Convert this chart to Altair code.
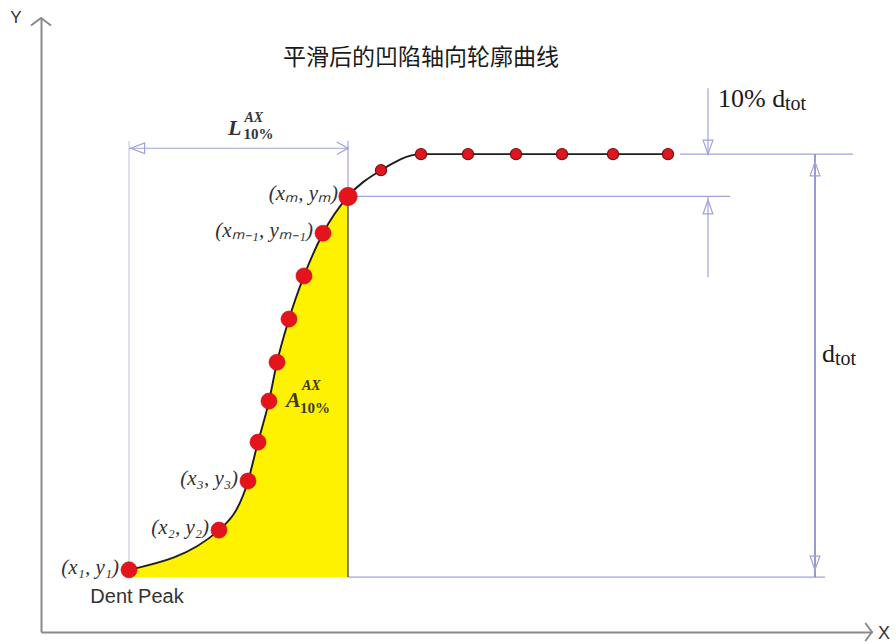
import altair as alt
import pandas as pd

# Smoothed axial dent profile.
# pos: position along the dent axis; depth: depth as % of the total dent depth d_tot
pos = [8.8, 17.8, 20.7, 21.7, 22.8, 23.6, 24.8, 26.3, 28.2, 30.7,
       34.0, 38.0, 42.7, 47.5, 52.1, 57.2, 62.7]
depth = [1.7, 11.1, 22.7, 31.9, 41.6, 50.8, 61.0, 71.2, 81.3, 90.0,
         96.2, 100.0, 100.0, 100.0, 100.0, 100.0, 100.0]
D_TOT = 100.0
M = 9  # index of (x_m, y_m), the point at 90 % of d_tot

label_index = [0, 1, 2, 8, 9]
label_text = ["(x₁, y₁)", "(x₂, y₂)", "(x₃, y₃)", "(xₘ₋₁, yₘ₋₁)", "(xₘ, yₘ)"]

TITLE = "平滑后的凹陷轴向轮廓曲线"

# ---- frame and annotation layout (data units) ---------------------------
X_MAX, Y_MIN, Y_MAX = 83.1, -13.0, 132.2
L_LEVEL, EXT_TOP = 101.4, 103.1          # L dimension line
TEN_X, TEN_TOP, TEN_LOW = 66.7, 115.6, 70.9  # 10 % d_tot arrows
DTOT_X = 77.4                            # d_tot arrow
TOP_LINE = (63.9, 81.2)
MID_END, BASE_END = 68.9, 78.4

LINE_C = "#9ea3da"
DARK_LINE_C = "#7a80cf"
TEXT_C = "#333333"

profile = pd.DataFrame({"i": list(range(len(pos))), "x": pos, "y": depth})
x1, y1 = pos[0], depth[0]
xm, ym = pos[M], depth[M]

xs = alt.Scale(domain=[0, X_MAX], nice=False, zero=False)
ys = alt.Scale(domain=[Y_MIN, Y_MAX], nice=False, zero=False)
ax = alt.Axis(title="", labels=False, ticks=False, grid=False,
              domainColor="#8a8a8a", domainWidth=2)


def X(f):
    return alt.X(f, type="quantitative", scale=xs, axis=ax)


def Y(f):
    return alt.Y(f, type="quantitative", scale=ys, axis=ax)


def segments(rows, color, width):
    df = pd.DataFrame(rows, columns=["x", "x2", "y", "y2"])
    return alt.Chart(df).mark_rule(color=color, strokeWidth=width).encode(
        x=X("x"), x2="x2", y=Y("y"), y2="y2")


def heads(rows, shape, size, color, width):
    df = pd.DataFrame(rows, columns=["x", "y"])
    return alt.Chart(df).mark_point(
        shape=shape, size=size, filled=False, color=color,
        strokeWidth=width, opacity=1).encode(x=X("x"), y=Y("y"))


def text(x, y, t, **kw):
    df = pd.DataFrame({"x": [x], "y": [y], "t": [t]})
    return alt.Chart(df).mark_text(**kw).encode(x=X("x"), y=Y("y"), text="t:N")


# custom symbol paths, tip at (or just inside) the origin
DOWN_TRI = "M0,0L-0.7,-2L0.7,-2Z"
UP_TRI_IN = "M0,0.5L-0.7,2.5L0.7,2.5Z"
UP_TRI_IN2 = "M0,1.1L-0.7,3.1L0.7,3.1Z"
DOWN_TRI_IN = "M0,-1L-0.7,-3L0.7,-3Z"
LEFT_TRI = "M0.3,0L2.6,-0.9L2.6,0.9Z"
RIGHT_CHEV = "M-1.6,-0.9L0,0L-1.6,0.9"
AXIS_UP = "M-1,0.75L0,0L1,0.75"
AXIS_RIGHT = "M-0.75,-1L0,0L-0.75,1"

# yellow area A under the curve between x_1 and x_m
area = alt.Chart(profile).transform_filter(f"datum.i <= {M}").transform_calculate(
    base="0").mark_area(interpolate="monotone", color="#FFF200", opacity=1).encode(
    x=X("x"), y=Y("y"), y2="base:Q")

edge = segments([(xm, xm, 0, ym)], "#5a5a4a", 1.5)

light_ext = segments([(x1, x1, y1, EXT_TOP)], "#c9cbe4", 1.2)
dim_lines = segments([
    (xm, xm, ym, EXT_TOP),
    (x1, xm, L_LEVEL, L_LEVEL),
    (TOP_LINE[0], TOP_LINE[1], D_TOT, D_TOT),
    (xm, MID_END, 0.9 * D_TOT, 0.9 * D_TOT),
    (xm, BASE_END, 0, 0),
    (TEN_X, TEN_X, D_TOT, TEN_TOP),
    (TEN_X, TEN_X, TEN_LOW, 0.9 * D_TOT),
], LINE_C, 1.2)
dtot_line = segments([(DTOT_X, DTOT_X, 0, D_TOT)], DARK_LINE_C, 1.6)

heads_layers = [
    heads([(TEN_X, D_TOT)], DOWN_TRI, 196, LINE_C, 1.2),
    heads([(TEN_X, 0.9 * D_TOT)], UP_TRI_IN, 196, LINE_C, 1.2),
    heads([(DTOT_X, D_TOT)], UP_TRI_IN2, 196, LINE_C, 1.2),
    heads([(DTOT_X, 0)], DOWN_TRI_IN, 196, LINE_C, 1.2),
    heads([(x1, L_LEVEL)], LEFT_TRI, 144, LINE_C, 1.2),
    heads([(xm, L_LEVEL)], RIGHT_CHEV, 196, LINE_C, 1.3),
    heads([(0, Y_MAX)], AXIS_UP, 400, "#8a8a8a", 2),
    heads([(X_MAX, Y_MIN)], AXIS_RIGHT, 324, "#8a8a8a", 2),
]

curve = alt.Chart(profile).mark_line(
    interpolate="monotone", color="#1e1e1e", strokeWidth=1.9).encode(
    x=X("x"), y=Y("y"))

rising = alt.Chart(profile).transform_filter(f"datum.i <= {M}").mark_point(
    filled=True, fill="#E3141B", stroke="#C80F15", strokeWidth=0.6, opacity=1
).encode(x=X("x"), y=Y("y"),
         size=alt.condition(f"datum.i == {M}", alt.value(340), alt.value(260)))

plateau = alt.Chart(profile).transform_filter(f"datum.i > {M}").mark_point(
    filled=True, fill="#DD1620", stroke="#7a0a0a", strokeWidth=1.1, opacity=1,
    size=125).encode(x=X("x"), y=Y("y"))

labels_df = pd.DataFrame({"x": [pos[k] for k in label_index],
                          "y": [depth[k] for k in label_index],
                          "t": label_text})
point_labels = alt.Chart(labels_df).mark_text(
    align="right", baseline="middle", dx=-10, dy=-2, font="Liberation Serif",
    fontStyle="italic", fontSize=21, color=TEXT_C).encode(
    x=X("x"), y=Y("y"), text="t:N")

serif = "Liberation Serif"
l_mid = (x1 + xm) / 2
texts = [
    text(38.0, 122.7, TITLE, font="Noto Sans CJK SC", fontSize=23,
         color="#1a1a1a", align="center", baseline="middle"),
    text(x1, y1, "Dent Peak", font="Liberation Sans", fontSize=20, color=TEXT_C,
         align="center", baseline="alphabetic", dx=8, dy=33),
    # L^AX_10%
    text(l_mid, L_LEVEL, "L", font=serif, fontSize=22, fontStyle="italic",
         fontWeight="bold", color=TEXT_C, align="right", baseline="alphabetic",
         dx=3, dy=-13),
    text(l_mid, L_LEVEL, "AX", font=serif, fontSize=14, fontStyle="italic",
         fontWeight="bold", color=TEXT_C, align="left", baseline="alphabetic",
         dx=6, dy=-26),
    text(l_mid, L_LEVEL, "10%", font=serif, fontSize=15, fontWeight="bold",
         color=TEXT_C, align="left", baseline="alphabetic", dx=5, dy=-9),
    # A^AX_10%
    text(pos[4], depth[4], "A", font=serif, fontSize=22, fontStyle="italic",
         fontWeight="bold", color="#3a3a2a", align="left", baseline="alphabetic",
         dx=17, dy=6),
    text(pos[4], depth[4], "AX", font=serif, fontSize=14, fontStyle="italic",
         fontWeight="bold", color="#3a3a2a", align="left", baseline="alphabetic",
         dx=33, dy=-11),
    text(pos[4], depth[4], "10%", font=serif, fontSize=15, fontWeight="bold",
         color="#3a3a2a", align="left", baseline="alphabetic", dx=31, dy=12),
    # 10% d_tot
    text(TEN_X, TEN_TOP, "10% d", font=serif, fontSize=26, color="#1a1a1a",
         align="left", baseline="alphabetic", dx=10, dy=19),
    text(TEN_X, TEN_TOP, "tot", font=serif, fontSize=20, color="#1a1a1a",
         align="left", baseline="alphabetic", dx=77, dy=22),
    # d_tot
    text(DTOT_X, D_TOT / 2, "d", font=serif, fontSize=26, color="#1a1a1a",
         align="left", baseline="alphabetic", dx=7, dy=-4),
    text(DTOT_X, D_TOT / 2, "tot", font=serif, fontSize=20, color="#1a1a1a",
         align="left", baseline="alphabetic", dx=20, dy=-1),
    # axis names
    text(0, Y_MAX, "Y", font="Liberation Sans", fontSize=17, color=TEXT_C,
         align="center", baseline="middle", dx=-25, dy=0),
    text(X_MAX, Y_MIN, "X", font="Liberation Sans", fontSize=18, color=TEXT_C,
         align="center", baseline="middle", dx=12, dy=2),
]

chart = alt.layer(
    area, light_ext, dim_lines, dtot_line, edge, *heads_layers,
    curve, rising, plateau, point_labels, *texts
).properties(
    width=831, height=614,
    padding={"left": 41, "top": 18, "right": 24, "bottom": 12},
    autosize=alt.AutoSizeParams(type="none"),
    background="white",
).configure_view(strokeWidth=0)

chart.save("out.html", embed_options={"renderer": "svg", "actions": False})
